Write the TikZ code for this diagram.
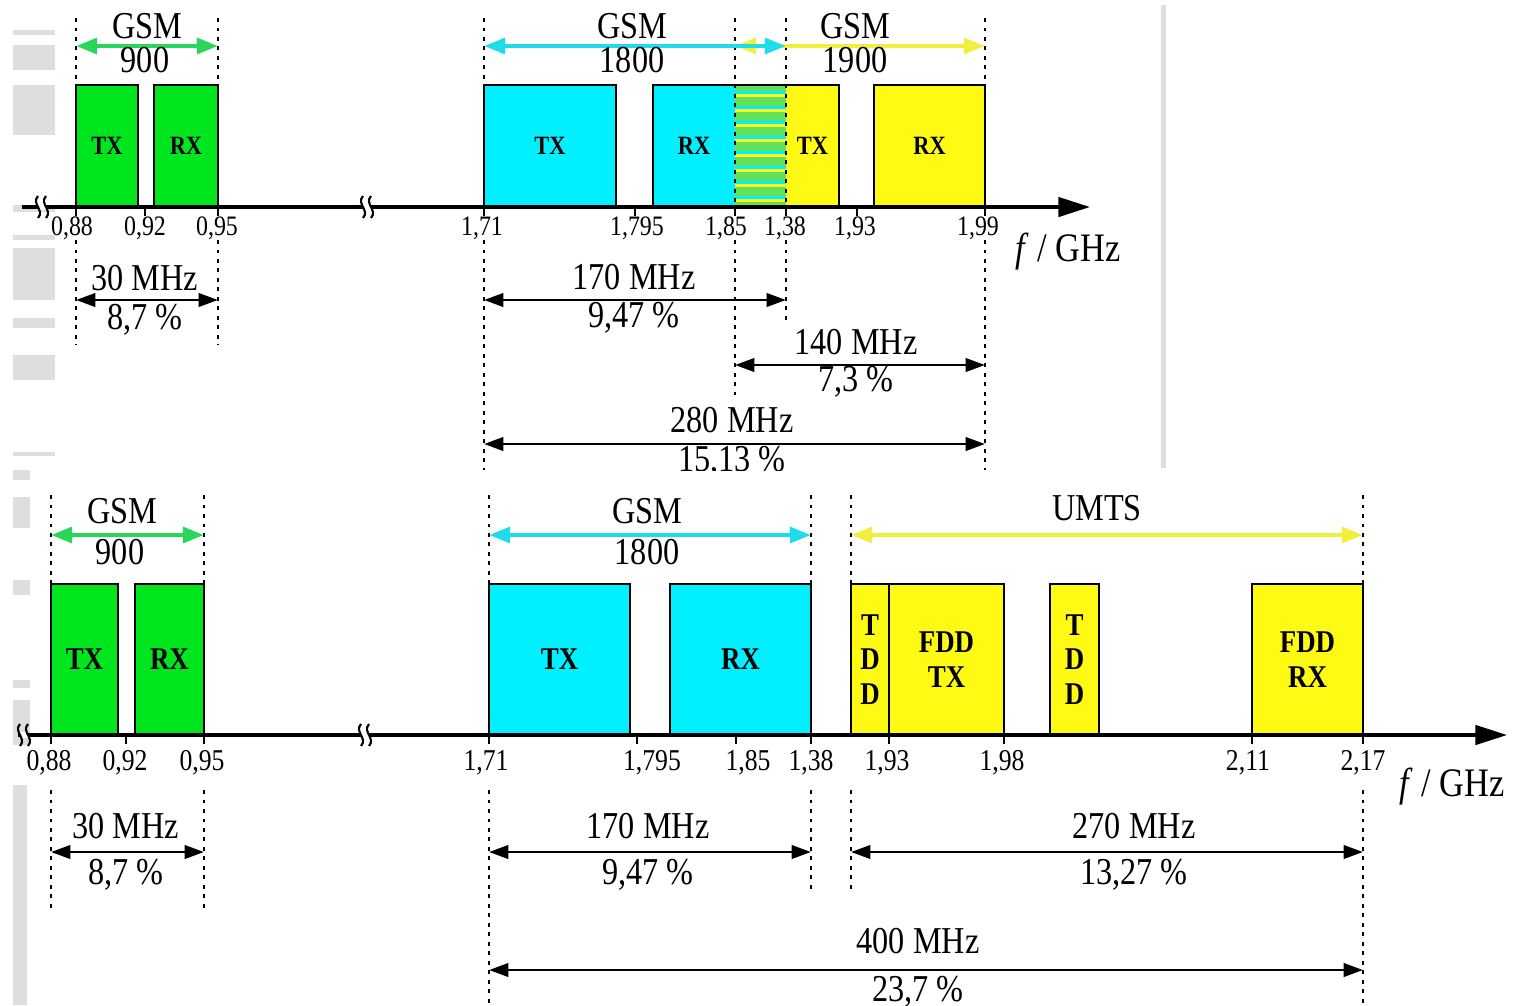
\documentclass[tikz,border=0pt]{standalone}
\usepackage{fontspec}
\setmainfont{Liberation Serif}
\newfontfamily\condf[FakeStretch=0.85]{Liberation Serif}
\usetikzlibrary{arrows.meta}
\definecolor{gsmg}{RGB}{0,230,30}
\definecolor{gsmc}{RGB}{0,240,255}
\definecolor{gsmy}{RGB}{255,250,20}
\definecolor{arrg}{RGB}{40,215,90}
\definecolor{arrc}{RGB}{30,220,235}
\definecolor{arry}{RGB}{240,240,60}
\definecolor{hatchg}{RGB}{100,225,90}
\definecolor{artgray}{RGB}{222,222,222}
\tikzset{
  band/.style={line width=0.8pt, inner sep=0pt, outer sep=0pt, align=center},
  topbandfont/.style={font=\condf\bfseries\fontsize{7.5}{9}\selectfont},
  botbandfont/.style={font=\condf\bfseries\fontsize{9}{9.8}\selectfont},
  axisline/.style={line width=1pt, -{Triangle[length=9pt,width=5.5pt]}},
  dimarrow/.style={line width=0.8pt, {Triangle[length=5.5pt,width=3.8pt]}-{Triangle[length=5.5pt,width=3.8pt]}},
  sysarrow/.style={line width=1.3pt, {Triangle[length=6pt,width=4.4pt]}-{Triangle[length=6pt,width=4.4pt]}},
  guide/.style={line width=0.8pt, dash pattern=on 1.1pt off 1.6pt},
  lbl/.style={font=\condf\fontsize{10.8}{12}\selectfont, inner sep=0pt},
  ticklbltop/.style={font=\condf\fontsize{8}{9}\selectfont, inner sep=0pt},
  ticklblbot/.style={font=\condf\fontsize{8.6}{10}\selectfont, inner sep=0pt},
  unitlbl/.style={font=\condf\fontsize{11.5}{13}\selectfont, inner sep=0pt}
}
% name, x1, x2, y1, y2, style, text
\newcommand\band[7]{%
  \node[band, #6, minimum width={(#3-#2)*0.01cm}, minimum height={(#5-#4)*0.01cm}]
    (#1) at ({(#2+#3)/2},{(#4+#5)/2}) {#7};}
% name, x1, x2, yarrow, xtext, ytop, toptext, ybot, bottext
\newcommand\dimm[9]{%
  \coordinate (#1a) at (#2,#4); \coordinate (#1b) at (#3,#4);
  \draw[dimarrow] (#1a) -- (#1b);
  \node[lbl] (#1t) at (#5,#6) {#7};
  \node[lbl] (#1p) at (#5,#8) {#9};}
% x, y1, y2
\newcommand\guide[3]{\draw[guide] (#1,#2) -- (#1,#3);}
% name, xtick, yaxis, xlabel, ylabel, style, text
\newcommand\tickl[7]{%
  \coordinate (#1) at (#2,#3);
  \draw[line width=0.8pt] (#1) -- ++(0,9);
  \node[#6] (#1l) at (#4,#5) {#7};}
% x, y : axis break mark
\newcommand\brk[2]{%
  \fill[white] (#1-4,#2-3) rectangle (#1+4,#2+3);
  \draw[line width=0.6pt] (#1-4,#2-11) .. controls (#1-11,#2-3) and (#1+3,#2+3) .. (#1-4,#2+11);
  \draw[line width=0.6pt] (#1+4,#2-11) .. controls (#1-3,#2-3) and (#1+11,#2+3) .. (#1+4,#2+11);}
\begin{document}
\begin{tikzpicture}[x=0.01cm,y=-0.01cm]
\useasboundingbox (0,0) rectangle (1521,1005);
\fill[white] (0,0) rectangle (1521,1005);

% ---- faint scan artefacts ----
\fill[artgray] (13,30) rectangle (55,35);
\fill[artgray] (13,45) rectangle (55,70);
\fill[artgray] (13,85) rectangle (55,135);
\fill[artgray] (13,205) rectangle (55,212);
\fill[artgray] (13,235) rectangle (55,240);
\fill[artgray] (13,248) rectangle (55,300);
\fill[artgray] (13,318) rectangle (55,328);
\fill[artgray] (13,355) rectangle (55,380);
\fill[artgray] (13,452) rectangle (55,456);
\fill[artgray] (13,470) rectangle (30,480);
\fill[artgray] (13,497) rectangle (30,528);
\fill[artgray] (13,580) rectangle (30,595);
\fill[artgray] (13,680) rectangle (30,688);
\fill[artgray] (13,700) rectangle (30,745);
\fill[artgray] (13,785) rectangle (27,1005);
\fill[artgray] (1161,5) rectangle (1166,468);

% =================== TOP PANEL ===================
\begin{scope}
\clip (0,0) rectangle (1521,470);

% bands
\band{gtxA}{76}{138}{85}{207}{draw, fill=gsmg, topbandfont}{TX}
\band{grxA}{154}{218}{85}{207}{draw, fill=gsmg, topbandfont}{RX}
\band{ctxA}{484}{616}{85}{207}{draw, fill=gsmc, topbandfont}{TX}
\band{crxA}{653}{735}{85}{207}{fill=gsmc, topbandfont}{RX}
\band{ovlA}{735}{786}{85}{207}{fill=hatchg}{}
\begin{scope}
  \clip (735,85) rectangle (786,207);
  \foreach \yy in {85,100,...,205} {
    \fill[gsmc] (735,\yy+6) rectangle (786,\yy+9);
    \fill[gsmy] (735,\yy+9) rectangle (786,\yy+12);
  }
\end{scope}
\band{ytxA}{786}{839}{85}{207}{fill=gsmy, topbandfont}{TX}
\draw[line width=0.8pt] (crxA.south west) |- (ytxA.north east) -- (ytxA.south east);
\band{yrxA}{874}{985}{85}{207}{draw, fill=gsmy, topbandfont}{RX}

% guides
\guide{76}{18}{85}   \guide{218}{18}{85}
\guide{76}{240}{345} \guide{218}{240}{345}
\guide{484}{18}{85}  \guide{484}{240}{470}
\guide{735}{18}{207} \guide{735}{240}{395}
\guide{786}{18}{207} \guide{786}{240}{325}
\guide{985}{18}{85}  \guide{985}{240}{470}

% system arrows
\coordinate (sgA1) at (76,46);  \coordinate (sgA2) at (218,46);
\coordinate (syA1) at (735,46); \coordinate (syA2) at (985,46);
\coordinate (scA1) at (484,46); \coordinate (scA2) at (786,46);
\draw[sysarrow, arrg] (sgA1) -- (sgA2);
\draw[sysarrow, arry] (syA1) -- (syA2);
\draw[sysarrow, arrc] (scA1) -- (scA2);
\node[lbl] (gsmA1) at (147,26) {GSM};
\node[lbl] (gsmA1n) at (145,60) {900};
\node[lbl] (gsmA2) at (632,26) {GSM};
\node[lbl] (gsmA2n) at (632,60) {1800};
\node[lbl] (gsmA3) at (855,26) {GSM};
\node[lbl] (gsmA3n) at (855,60) {1900};

% axis
\coordinate (axA1) at (22,207); \coordinate (axA2) at (1090,207);
\draw[axisline] (axA1) -- (axA2);
\brk{42}{207}
\brk{367}{207}

% ticks
\tickl{tA1}{76}{207}{72}{228}{ticklbltop}{0,88}
\tickl{tA2}{145}{207}{145}{228}{ticklbltop}{0,92}
\tickl{tA3}{218}{207}{217}{228}{ticklbltop}{0,95}
\tickl{tA4}{484}{207}{482}{228}{ticklbltop}{1,71}
\tickl{tA5}{635}{207}{637}{228}{ticklbltop}{1,795}
\tickl{tA6}{735}{207}{726}{228}{ticklbltop}{1,85}
\tickl{tA7}{786}{207}{785}{228}{ticklbltop}{1,38}
\tickl{tA8}{857}{207}{855}{228}{ticklbltop}{1,93}
\tickl{tA9}{985}{207}{978}{228}{ticklbltop}{1,99}
\node[unitlbl] (unitA) at (1068,252) {\textit{f} / GHz};

% dimensions
\dimm{dA1}{76}{218}{300}{145}{278}{30 MHz}{320}{8,7 \%}
\dimm{dA2}{484}{786}{300}{634}{277}{170 MHz}{318}{9,47 \%}
\dimm{dA3}{735}{985}{365}{856}{342}{140 MHz}{382}{7,3 \%}
\dimm{dA4}{484}{985}{444}{732}{420}{280 MHz}{462}{15,13 \%}
\end{scope}

% =================== BOTTOM PANEL ===================
\band{gtxB}{51}{118}{584}{735}{draw, fill=gsmg, botbandfont}{TX}
\band{grxB}{135}{204}{584}{735}{draw, fill=gsmg, botbandfont}{RX}
\band{ctxB}{489}{630}{584}{735}{draw, fill=gsmc, botbandfont}{TX}
\band{crxB}{670}{811}{584}{735}{draw, fill=gsmc, botbandfont}{RX}
\band{tddB1}{851}{889}{584}{735}{draw, fill=gsmy, botbandfont}{T\\D\\D}
\band{fdtB}{889}{1004}{584}{735}{draw, fill=gsmy, botbandfont}{FDD\\TX}
\band{tddB2}{1050}{1099}{584}{735}{draw, fill=gsmy, botbandfont}{T\\D\\D}
\band{fdrB}{1252}{1363}{584}{735}{draw, fill=gsmy, botbandfont}{FDD\\RX}

% guides
\guide{51}{495}{584}   \guide{204}{495}{584}
\guide{51}{790}{908}   \guide{204}{790}{908}
\guide{489}{495}{584}  \guide{489}{790}{1005}
\guide{811}{495}{584}  \guide{811}{790}{890}
\guide{851}{495}{584}  \guide{851}{790}{890}
\guide{1363}{495}{584} \guide{1363}{790}{1005}

% system arrows
\coordinate (sgB1) at (51,535);  \coordinate (sgB2) at (204,535);
\coordinate (scB1) at (489,535); \coordinate (scB2) at (811,535);
\coordinate (syB1) at (851,535); \coordinate (syB2) at (1363,535);
\draw[sysarrow, arrg] (sgB1) -- (sgB2);
\draw[sysarrow, arrc] (scB1) -- (scB2);
\draw[sysarrow, arry] (syB1) -- (syB2);
\node[lbl] (gsmB1) at (122,511) {GSM};
\node[lbl] (gsmB1n) at (120,552) {900};
\node[lbl] (gsmB2) at (647,511) {GSM};
\node[lbl] (gsmB2n) at (647,552) {1800};
\node[lbl] (umtsB) at (1097,508) {UMTS};

% axis
\coordinate (axB1) at (18,735); \coordinate (axB2) at (1507,735);
\draw[axisline] (axB1) -- (axB2);
\brk{24}{735}
\brk{365}{735}

% ticks
\tickl{tB1}{51}{735}{49}{763}{ticklblbot}{0,88}
\tickl{tB2}{126}{735}{125}{763}{ticklblbot}{0,92}
\tickl{tB3}{204}{735}{202}{763}{ticklblbot}{0,95}
\tickl{tB4}{489}{735}{486}{763}{ticklblbot}{1,71}
\tickl{tB5}{637}{735}{652}{763}{ticklblbot}{1,795}
\tickl{tB6}{736}{735}{748}{763}{ticklblbot}{1,85}
\tickl{tB7}{811}{735}{811}{763}{ticklblbot}{1,38}
\tickl{tB8}{889}{735}{887}{763}{ticklblbot}{1,93}
\tickl{tB9}{1004}{735}{1002}{763}{ticklblbot}{1,98}
\tickl{tB10}{1252}{735}{1248}{763}{ticklblbot}{2,11}
\tickl{tB11}{1363}{735}{1363}{763}{ticklblbot}{2,17}
\node[unitlbl] (unitB) at (1452,787) {\textit{f} / GHz};

% dimensions
\dimm{dB1}{51}{204}{852}{126}{826}{30 MHz}{875}{8,7 \%}
\dimm{dB2}{489}{811}{852}{648}{826}{170 MHz}{875}{9,47 \%}
\dimm{dB3}{851}{1363}{852}{1134}{826}{270 MHz}{875}{13,27 \%}
\dimm{dB4}{489}{1363}{970}{918}{941}{400 MHz}{992}{23,7 \%}
\end{tikzpicture}
\end{document}
